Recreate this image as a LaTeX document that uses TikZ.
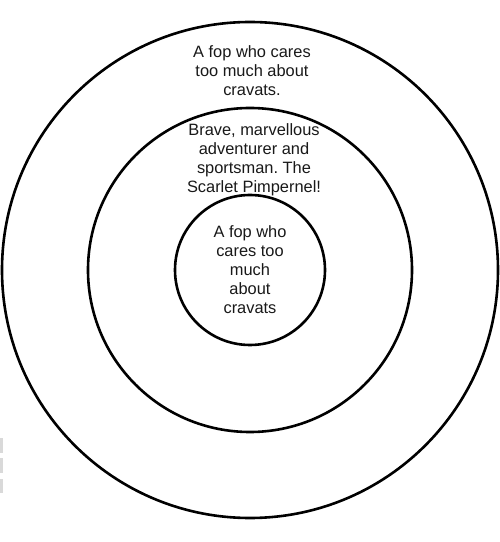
\documentclass[tikz,border=0pt]{standalone}
\usepackage{fontspec}
\setmainfont{Liberation Sans}
\frenchspacing
\begin{document}
\begin{tikzpicture}[x=1pt,y=1pt,
  ring/.style={draw=black,line width=2.6pt,circle,inner sep=0pt},
  lbl/.style={align=center,inner sep=0pt,font=\fontsize{16.4}{19}\selectfont,text=black!90},
  speck/.style={fill=black!15,draw=none}]
\useasboundingbox (0,0) rectangle (500,542);
\fill[white] (0,0) rectangle (500,542);
\coordinate (c) at (250,272);
\node[ring,minimum size=496pt] (outer) at (c) {};
\node[ring,minimum size=324pt] (middle) at (c) {};
\node[ring,minimum size=150pt] (inner) at (c) {};
\node[lbl] (t1) at (252,471) {A fop who cares\\too much about\\cravats.};
\node[lbl] (t2) at (254,382) {Brave, marvellous\\adventurer and\\sportsman. The\\Scarlet Pimpernel!};
\node[lbl] (t3) at (250,272.5) {A fop who\\cares too\\much\\about\\cravats};
\fill[speck] (0,542-453) rectangle (3,542-438);
\fill[speck] (0,542-473) rectangle (3,542-458);
\fill[speck] (0,542-493) rectangle (3,542-479);
\end{tikzpicture}
\end{document}
